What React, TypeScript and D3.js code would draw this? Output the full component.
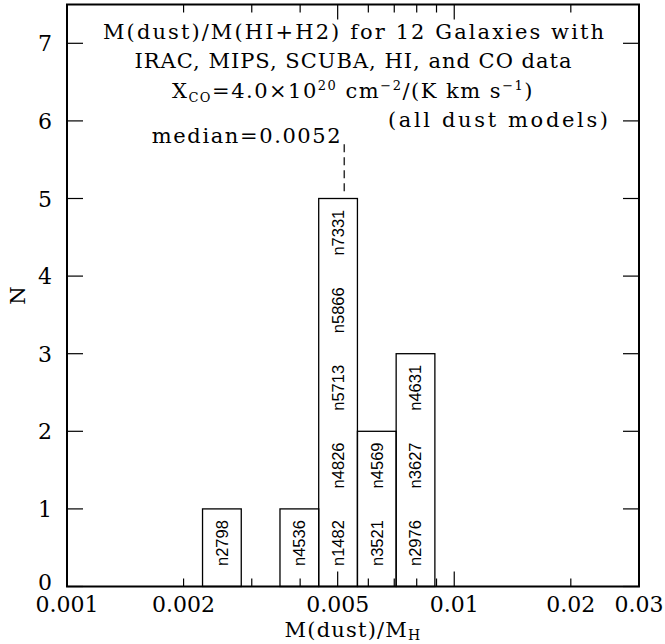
import React from "react";
import * as d3 from "d3";

// ---- data ----
const binEdgesLog = [-2.65, -2.55, -2.45, -2.35, -2.25, -2.15, -2.05];
const binCounts = [1, 0, 1, 5, 2, 3];
const binGalaxies: string[][] = [
  ["n2798"],
  [],
  ["n4536"],
  ["n1482", "n4826", "n5713", "n5866", "n7331"],
  ["n3521", "n4569"],
  ["n2976", "n3627", "n4631"],
];
const xTickLabels = [0.001, 0.002, 0.005, 0.01, 0.02, 0.03];
const xMajorTicks = [0.001, 0.005, 0.01];
const xMinorTicks = [0.002, 0.003, 0.004, 0.006, 0.007, 0.008, 0.009, 0.02, 0.03];
const yTicks = [0, 1, 2, 3, 4, 5, 6, 7];
const medianValue = 0.0052;
const medianLineRange = [5.05, 5.7];

const W = 665, H = 644;
const L = 67, R = 639, T = 4.5, B = 586.5;
const SERIF = "'DejaVu Serif', serif";
const SANS = "'Liberation Sans', Arial, sans-serif";

export default function App() {
  const x = d3.scaleLog().domain([0.001, 0.03]).range([L, R]);
  const y = d3.scaleLinear().domain([0, 7.5]).range([B, T]);
  const fmt = (v: number) => String(v);
  const labFs = 16.5;

  return (
    <svg width={W} height={H} style={{ position: "absolute", left: 0, top: 0, background: "#fff" }}>
      {/* histogram bars */}
      {binCounts.map((c, i) =>
        c > 0 ? (
          <rect
            key={"b" + i}
            x={x(Math.pow(10, binEdgesLog[i]))}
            y={y(c)}
            width={x(Math.pow(10, binEdgesLog[i + 1])) - x(Math.pow(10, binEdgesLog[i]))}
            height={y(0) - y(c)}
            fill="none"
            stroke="#000"
            strokeWidth={1.3}
          />
        ) : null
      )}
      {/* galaxy labels */}
      {binGalaxies.map((gs, i) => {
        const cx = (x(Math.pow(10, binEdgesLog[i])) + x(Math.pow(10, binEdgesLog[i + 1]))) / 2;
        return gs.map((g, k) => (
          <text
            key={g}
            transform={`translate(${cx + 0.358 * labFs},${y(k + 0.56)}) rotate(-90)`}
            textAnchor="middle"
            fontFamily={SANS}
            fontSize={labFs}
            fill="#000"
          >
            {g}
          </text>
        ));
      })}
      {/* median line */}
      <line
        x1={x(medianValue)}
        x2={x(medianValue)}
        y1={y(medianLineRange[1])}
        y2={y(medianLineRange[0])}
        stroke="#333"
        strokeWidth={1.5}
        strokeDasharray="8,5"
      />
      <text x={x(medianValue) - 2} y={143} textAnchor="end" fontFamily={SERIF} fontSize={21} letterSpacing={1.6}>
        median=0.0052
      </text>

      {/* frame */}
      <rect x={L} y={T} width={R - L} height={B - T} fill="none" stroke="#000" strokeWidth={2} />
      {/* x ticks */}
      {xMajorTicks.map((v) => (
        <g key={"M" + v}>
          <line x1={x(v)} x2={x(v)} y1={B} y2={B - 15} stroke="#000" strokeWidth={1.2} />
          <line x1={x(v)} x2={x(v)} y1={T} y2={T + 15} stroke="#000" strokeWidth={1.2} />
        </g>
      ))}
      {xMinorTicks.map((v) => (
        <g key={"m" + v}>
          <line x1={x(v)} x2={x(v)} y1={B} y2={B - 8} stroke="#000" strokeWidth={1.2} />
          <line x1={x(v)} x2={x(v)} y1={T} y2={T + 8} stroke="#000" strokeWidth={1.2} />
        </g>
      ))}
      {xTickLabels.map((v) => (
        <text key={"xl" + v} x={x(v)} y={612} textAnchor="middle" fontFamily={SERIF} fontSize={22}>
          {fmt(v)}
        </text>
      ))}
      {/* y ticks */}
      {yTicks.map((v) => (
        <g key={"y" + v}>
          <line x1={L} x2={L + 16} y1={y(v)} y2={y(v)} stroke="#000" strokeWidth={1.2} />
          <line x1={R} x2={R - 16} y1={y(v)} y2={y(v)} stroke="#000" strokeWidth={1.2} />
          <text x={52} y={y(v) + (v === 0 ? 3 : 8)} textAnchor="end" fontFamily={SERIF} fontSize={22}>
            {v}
          </text>
        </g>
      ))}
      {/* axis labels */}
      <text transform={`translate(25,${(T + B) / 2}) rotate(-90)`} textAnchor="middle" fontFamily={SERIF} fontSize={21}>
        N
      </text>
      <text x={(L + R) / 2} y={637} textAnchor="middle" fontFamily={SERIF} fontSize={21} letterSpacing={1.2}>
        M(dust)/M<tspan fontSize={14} dy={3}>H</tspan>
      </text>

      {/* title */}
      <g fontFamily={SERIF} fontSize={21} textAnchor="middle">
        <text x={353.5} y={38.5} textLength={501} lengthAdjust="spacing">
          M(dust)/M(HI+H2) for 12 Galaxies with
        </text>
        <text x={353} y={68} textLength={437} lengthAdjust="spacing">
          IRAC, MIPS, SCUBA, HI, and CO data
        </text>
        <text x={353} y={97.5} letterSpacing={1.5}>
          X<tspan fontSize={13} dy={4}>CO</tspan>
          <tspan dy={-4}>=4.0×10</tspan>
          <tspan fontSize={13} dy={-8}>20</tspan>
          <tspan dy={8}> cm</tspan>
          <tspan fontSize={13} dy={-8}>−2</tspan>
          <tspan dy={8}>/(K km s</tspan>
          <tspan fontSize={13} dy={-8}>−1</tspan>
          <tspan dy={8}>)</tspan>
        </text>
        <text x={498} y={127} textLength={220} lengthAdjust="spacing">
          (all dust models)
        </text>
      </g>
    </svg>
  );
}
